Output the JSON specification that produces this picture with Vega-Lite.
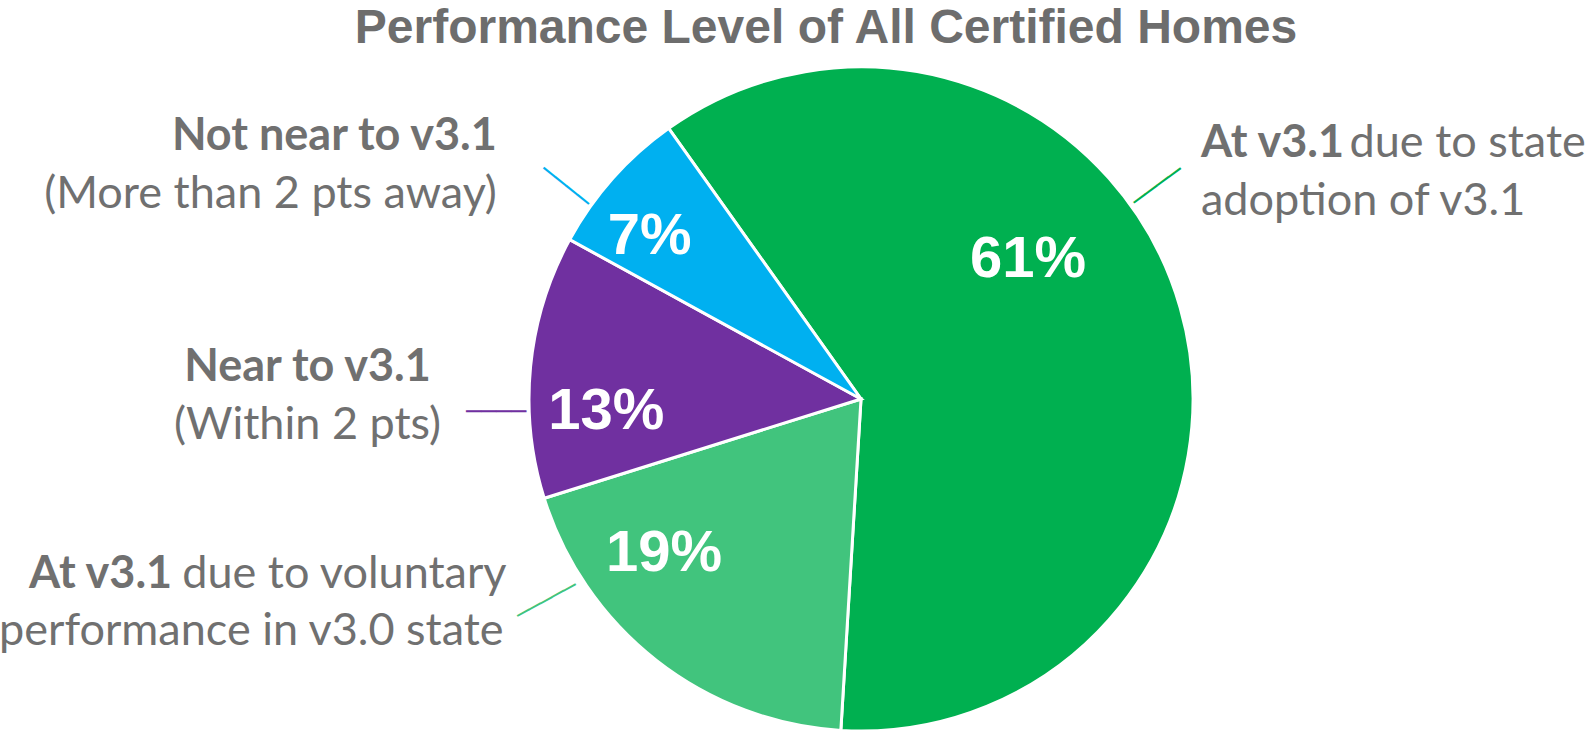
{
  "$schema": "https://vega.github.io/schema/vega-lite/v6.json",
  "width": 664,
  "height": 664,
  "autosize": "none",
  "padding": {"left": 529, "top": 67, "right": 396, "bottom": 2},
  "background": "white",
  "config": {"view": {"stroke": null}},
  "title": {
    "text": "Performance Level of All Certified Homes",
    "font": "Liberation Sans",
    "fontSize": 48,
    "fontWeight": "bold",
    "color": "#6d6d6d",
    "anchor": "middle",
    "dx": -35,
    "dy": 110,
    "offset": 22
  },
  "data": {
    "values": [
      {"key": "state", "share": 0.608, "head": "At v3.1", "tail": "due to state", "sub": "adoption of v3.1"},
      {"key": "voluntary", "share": 0.192, "head": "At v3.1", "tail": "due to voluntary", "sub": "performance in v3.0 state"},
      {"key": "near", "share": 0.128, "head": "Near to v3.1", "tail": "", "sub": "(Within 2 pts)"},
      {"key": "notnear", "share": 0.072, "head": "Not near to v3.1", "tail": "", "sub": "(More than 2 pts away)"}
    ]
  },
  "encoding": {
    "theta": {"field": "share", "type": "quantitative", "stack": true, "scale": {"range": [-0.6178, 5.6654]}},
    "order": {"field": "share", "type": "quantitative", "sort": "descending"},
    "detail": {"field": "key", "type": "nominal"}
  },
  "layer": [
    {
      "mark": {"type": "arc", "radius": 332, "stroke": "white", "strokeWidth": 3},
      "encoding": {
        "color": {"field": "key", "type": "nominal", "scale": {"domain": ["state", "voluntary", "near", "notnear"], "range": ["#00B050", "#41C47D", "#7030A0", "#00B0F0"]}, "legend": null}
      }
    },
    {
      "mark": {"type": "text", "radius": 220, "dx": -44.5, "dy": -79, "font": "Liberation Sans", "fontSize": 58, "fontWeight": "bold", "color": "white", "align": "center", "baseline": "middle"},
      "encoding": {"text": {"condition": {"test": "datum.key === 'state'", "field": "share", "type": "quantitative", "format": ".0%"}, "value": ""}}
    },
    {
      "mark": {"type": "text", "radius": 250, "dx": -43, "dy": -42, "font": "Liberation Sans", "fontSize": 58, "fontWeight": "bold", "color": "white", "align": "center", "baseline": "middle"},
      "encoding": {"text": {"condition": {"test": "datum.key === 'voluntary'", "field": "share", "type": "quantitative", "format": ".0%"}, "value": ""}}
    },
    {
      "mark": {"type": "text", "radius": 255, "dx": -1, "dy": 38.5, "font": "Liberation Sans", "fontSize": 58, "fontWeight": "bold", "color": "white", "align": "center", "baseline": "middle"},
      "encoding": {"text": {"condition": {"test": "datum.key === 'near'", "field": "share", "type": "quantitative", "format": ".0%"}, "value": ""}}
    },
    {
      "mark": {"type": "text", "radius": 276, "dx": -5, "dy": 21, "font": "Liberation Sans", "fontSize": 58, "fontWeight": "bold", "color": "white", "align": "center", "baseline": "middle"},
      "encoding": {"text": {"condition": {"test": "datum.key === 'notnear'", "field": "share", "type": "quantitative", "format": ".0%"}, "value": ""}}
    },
    {
      "mark": {"type": "text", "radius": 360, "angle": 323.7, "dx": 27.5, "dy": -120.7, "font": "DejaVu Sans", "fontSize": 24, "color": "#00B050", "align": "center", "baseline": "middle"},
      "encoding": {"text": {"condition": {"test": "datum.key === 'state'", "value": "────"}, "value": ""}}
    },
    {
      "mark": {"type": "text", "radius": 360, "angle": 331.4, "dx": -42, "dy": -116.2, "font": "DejaVu Sans", "fontSize": 22, "color": "#41C47D", "align": "center", "baseline": "middle"},
      "encoding": {"text": {"condition": {"test": "datum.key === 'voluntary'", "value": "─────"}, "value": ""}}
    },
    {
      "mark": {"type": "text", "radius": 360, "angle": 0, "dx": -6.7, "dy": 48.4, "font": "DejaVu Sans", "fontSize": 25, "color": "#7030A0", "align": "center", "baseline": "middle"},
      "encoding": {"text": {"condition": {"test": "datum.key === 'near'", "value": "────"}, "value": ""}}
    },
    {
      "mark": {"type": "text", "radius": 360, "angle": 38.5, "dx": -4, "dy": 37.7, "font": "DejaVu Sans", "fontSize": 24, "color": "#00B0F0", "align": "center", "baseline": "middle"},
      "encoding": {"text": {"condition": {"test": "datum.key === 'notnear'", "value": "────"}, "value": ""}}
    },
    {
      "mark": {"type": "text", "radius": 400, "dx": -65.2, "dy": 2.9, "font": "Lato", "fontSize": 45, "fontWeight": "bold", "color": "#707070", "align": "right", "baseline": "middle"},
      "encoding": {"text": {"condition": {"test": "datum.key === 'notnear'", "field": "head", "type": "nominal"}, "value": ""}}
    },
    {
      "mark": {"type": "text", "radius": 400, "dx": -65.2, "dy": 60.4, "font": "Lato", "fontSize": 45, "color": "#707070", "align": "right", "baseline": "middle"},
      "encoding": {"text": {"condition": {"test": "datum.key === 'notnear'", "field": "sub", "type": "nominal"}, "value": ""}}
    },
    {
      "mark": {"type": "text", "radius": 400, "dx": -155.4, "dy": 7.3, "font": "Lato", "fontSize": 45, "fontWeight": "bold", "color": "#707070", "align": "center", "baseline": "middle"},
      "encoding": {"text": {"condition": {"test": "datum.key === 'near'", "field": "head", "type": "nominal"}, "value": ""}}
    },
    {
      "mark": {"type": "text", "radius": 400, "dx": -155.4, "dy": 65.3, "font": "Lato", "fontSize": 45, "color": "#707070", "align": "center", "baseline": "middle"},
      "encoding": {"text": {"condition": {"test": "datum.key === 'near'", "field": "sub", "type": "nominal"}, "value": ""}}
    },
    {
      "mark": {"type": "text", "radius": 400, "dx": -442.3, "dy": -140.1, "font": "Lato", "fontSize": 45, "fontWeight": "bold", "color": "#707070", "align": "right", "baseline": "middle"},
      "encoding": {"text": {"condition": {"test": "datum.key === 'voluntary'", "field": "head", "type": "nominal"}, "value": ""}}
    },
    {
      "mark": {"type": "text", "radius": 400, "dx": -432.2, "dy": -140.1, "font": "Lato", "fontSize": 45, "color": "#707070", "align": "left", "baseline": "middle"},
      "encoding": {"text": {"condition": {"test": "datum.key === 'voluntary'", "field": "tail", "type": "nominal"}, "value": ""}}
    },
    {
      "mark": {"type": "text", "radius": 400, "dx": -110.9, "dy": -83.1, "font": "Lato", "fontSize": 45, "color": "#707070", "align": "right", "baseline": "middle"},
      "encoding": {"text": {"condition": {"test": "datum.key === 'voluntary'", "field": "sub", "type": "nominal"}, "value": ""}}
    },
    {
      "mark": {"type": "text", "radius": 400, "dx": -44.6, "dy": -146, "font": "Lato", "fontSize": 45, "fontWeight": "bold", "color": "#707070", "align": "left", "baseline": "middle"},
      "encoding": {"text": {"condition": {"test": "datum.key === 'state'", "field": "head", "type": "nominal"}, "value": ""}}
    },
    {
      "mark": {"type": "text", "radius": 400, "dx": 104, "dy": -146, "font": "Lato", "fontSize": 45, "color": "#707070", "align": "left", "baseline": "middle"},
      "encoding": {"text": {"condition": {"test": "datum.key === 'state'", "field": "tail", "type": "nominal"}, "value": ""}}
    },
    {
      "mark": {"type": "text", "radius": 400, "dx": -44.6, "dy": -88, "font": "Lato", "fontSize": 45, "color": "#707070", "align": "left", "baseline": "middle"},
      "encoding": {"text": {"condition": {"test": "datum.key === 'state'", "field": "sub", "type": "nominal"}, "value": ""}}
    }
  ]
}
